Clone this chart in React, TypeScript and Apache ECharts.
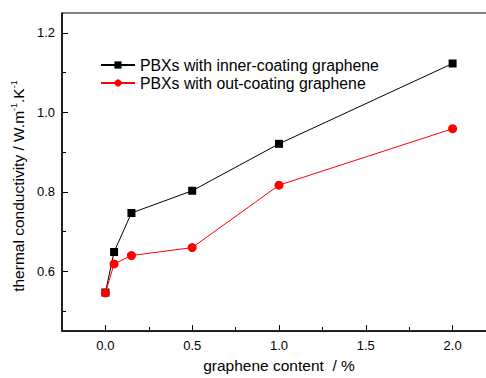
import React, { useEffect, useRef } from "react";
import * as echarts from "echarts";

const xInner = [0, 0.05, 0.15, 0.5, 1.0, 2.0];
const yInner = [0.547, 0.649, 0.747, 0.803, 0.921, 1.123];
const xOut = [0, 0.05, 0.15, 0.5, 1.0, 2.0];
const yOut = [0.546, 0.619, 0.64, 0.66, 0.817, 0.959];
const xMajorTicks = [0, 0.5, 1.0, 1.5, 2.0];
const xMinorTicks = [0.25, 0.75, 1.25, 1.75];
const yMajorTicks = [0.6, 0.8, 1.0, 1.2];
const yMinorTicks = [0.5, 0.7, 0.9, 1.1];
const seriesNames = [
  "PBXs with inner-coating graphene",
  "PBXs with out-coating graphene",
];

const FONT = "Arial, 'Liberation Sans', sans-serif";

export default function App() {
  const ref = useRef<HTMLDivElement>(null);
  useEffect(() => {
    if (!ref.current) return;
    const chart = echarts.init(ref.current, undefined, { renderer: "svg" });
    const toPairs = (xs: number[], ys: number[]) => xs.map((x, i) => [x, ys[i]]);
    chart.setOption({
      animation: false,
      backgroundColor: "#fff",
      grid: {
        left: 62,
        top: 13,
        width: 434,
        height: 319,
        show: true,
        borderColor: "#000",
        borderWidth: 1,
        backgroundColor: "transparent",
      },
      legend: {
        orient: "vertical",
        left: 95,
        top: 52,
        itemWidth: 34,
        itemHeight: 9,
        itemGap: 2,
        textStyle: { fontFamily: FONT, fontSize: 15.8, color: "#000" },
        data: seriesNames,
      },
      xAxis: [
        {
          type: "value",
          min: -0.25,
          max: 2.25,
          name: "graphene content  / %",
          nameLocation: "middle",
          nameGap: 20,
          nameTextStyle: { fontFamily: FONT, fontSize: 15.5, color: "#000" },
          axisLine: { show: true, onZero: false, lineStyle: { color: "#000", width: 1.5 } },
          axisTick: { show: true, inside: true, length: 6, customValues: xMajorTicks, lineStyle: { color: "#000" } },
          axisLabel: {
            customValues: xMajorTicks,
            formatter: (v: number) => v.toFixed(1),
            fontFamily: FONT,
            fontSize: 13,
            color: "#000",
            margin: 8,
          },
          splitLine: { show: false },
        },
        {
          type: "value",
          min: -0.25,
          max: 2.25,
          position: "bottom",
          axisLine: { show: false, onZero: false },
          axisTick: { show: true, inside: true, length: 4, customValues: xMinorTicks, lineStyle: { color: "#000" } },
          axisLabel: { show: false },
          splitLine: { show: false },
        },
      ],
      yAxis: [
        {
          type: "value",
          min: 0.45,
          max: 1.25,
          name: "thermal conductivity / W.m{sup|-1}.K{sup|-1}",
          nameLocation: "middle",
          nameRotate: 90,
          nameGap: 32,
          nameTextStyle: {
            fontFamily: FONT,
            fontSize: 15.5,
            color: "#000",
            padding: [0, 28, 0, 0],
            rich: {
              sup: { fontFamily: FONT, fontSize: 9, color: "#000", padding: [0, 0, 8, 0] },
            },
          },
          axisLine: { show: true, onZero: false, lineStyle: { color: "#000", width: 1.5 } },
          axisTick: { show: true, inside: true, length: 6, customValues: yMajorTicks, lineStyle: { color: "#000" } },
          axisLabel: {
            customValues: yMajorTicks,
            formatter: (v: number) => v.toFixed(1),
            fontFamily: FONT,
            fontSize: 13,
            color: "#000",
            margin: 7,
          },
          splitLine: { show: false },
        },
        {
          type: "value",
          min: 0.45,
          max: 1.25,
          position: "left",
          axisLine: { show: false, onZero: false },
          axisTick: { show: true, inside: true, length: 4, customValues: yMinorTicks, lineStyle: { color: "#000" } },
          axisLabel: { show: false },
          splitLine: { show: false },
        },
      ],
      series: [
        {
          name: seriesNames[0],
          type: "line",
          data: toPairs(xInner, yInner),
          symbol: "rect",
          symbolSize: 8,
          lineStyle: { color: "#000", width: 1 },
          itemStyle: { color: "#000" },
          z: 3,
        },
        {
          name: seriesNames[1],
          type: "line",
          data: toPairs(xOut, yOut),
          symbol: "circle",
          symbolSize: 9,
          lineStyle: { color: "#ff0000", width: 1 },
          itemStyle: { color: "#ff0000" },
          z: 4,
        },
      ],
    });
    return () => chart.dispose();
  }, []);
  return (
    <div
      style={{
        position: "fixed",
        left: 0,
        top: 0,
        width: 486,
        height: 378,
        overflow: "hidden",
        background: "#fff",
      }}
    >
      <div ref={ref} style={{ width: 500, height: 378 }} />
    </div>
  );
}
